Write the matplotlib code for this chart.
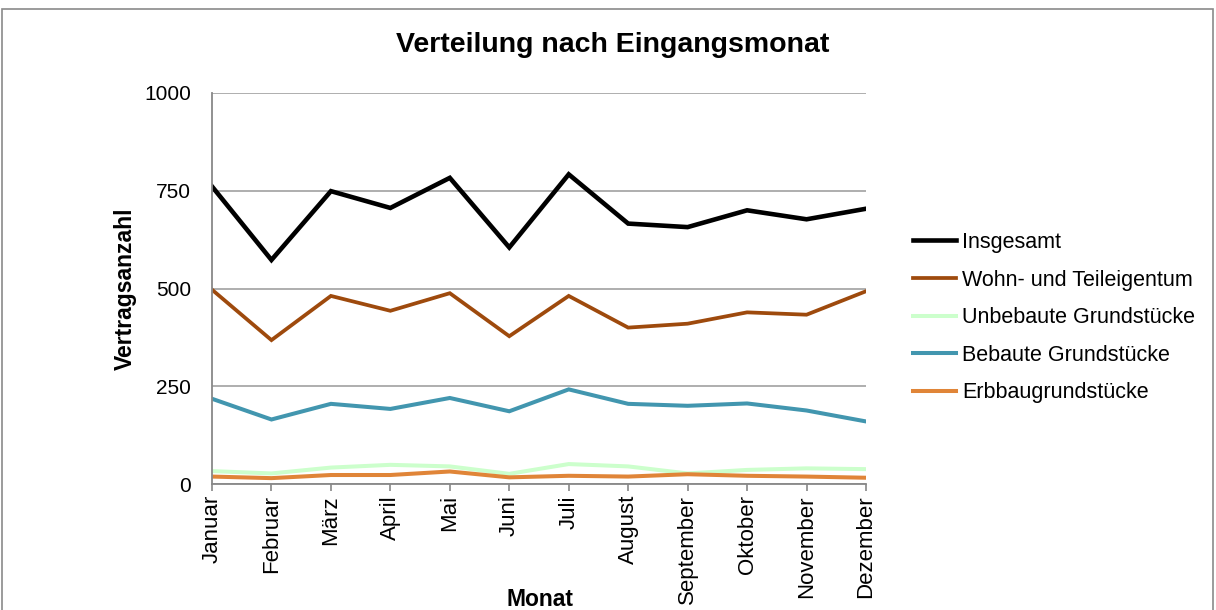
import matplotlib
matplotlib.use("Agg")
import matplotlib.pyplot as plt
from matplotlib.patches import Rectangle

plt.rcParams['font.family'] = ['Liberation Sans', 'DejaVu Sans']

months = ["Januar", "Februar", "März", "April", "Mai", "Juni", "Juli",
          "August", "September", "Oktober", "November", "Dezember"]
insgesamt = [761, 573, 749, 706, 783, 605, 792, 666, 657, 700, 677, 704]
wohn = [497, 368, 481, 443, 488, 378, 481, 400, 410, 439, 433, 493]
unbebaut = [33, 27, 42, 49, 45, 26, 51, 45, 27, 36, 40, 38]
bebaut = [218, 165, 205, 192, 220, 186, 242, 205, 200, 206, 188, 160]
erbbau = [19, 15, 23, 23, 32, 17, 21, 19, 25, 21, 19, 16]

series = [
    ("Insgesamt", insgesamt, "#000000", 3.3),
    ("Wohn- und Teileigentum", wohn, "#9E4A0D", 2.7),
    ("Unbebaute Grundstücke", unbebaut, "#CCFFCC", 2.9),
    ("Bebaute Grundstücke", bebaut, "#4296AF", 2.9),
    ("Erbbaugrundstücke", erbbau, "#E08538", 2.9),
]

fig = plt.figure(figsize=(12.16, 6.10), dpi=100)
ax = fig.add_axes([212/1216, 1-484/610, (866-212)/1216, (484-93)/610])

x = list(range(len(months)))
for name, vals, col, lw in series:
    ax.plot(x, vals, color=col, lw=lw, label=name, solid_joinstyle='miter')

ax.set_xlim(0, len(months)-1)
ax.set_ylim(0, 1000)
ax.set_yticks([0, 250, 500, 750, 1000])
ax.set_xticks(x)
ax.set_xticklabels(months, rotation=90, fontsize=16)
ax.tick_params(axis='y', length=0, pad=15, labelsize=15)
ax.tick_params(axis='x', length=5, color='#888888', width=1.2, pad=3)
ax.grid(axis='y', color='#999999', lw=1.1)
ax.set_axisbelow(True)
for s in ['top', 'right']:
    ax.spines[s].set_visible(False)
for s in ['left', 'bottom']:
    ax.spines[s].set_color('#888888')
    ax.spines[s].set_linewidth(1.3)

ax.set_ylabel("Vertragsanzahl", fontsize=16.5, fontweight='bold')
ax.yaxis.set_label_coords((137-212)/654, 0.5)
fig.text(540/1216, 1-599/610, "Monat", fontsize=16.5, fontweight='bold',
         ha='center', va='center')

fig.text(613/1216, 1-45/610, "Verteilung nach Eingangsmonat", fontsize=20.5,
         fontweight='bold', ha='center', va='center')

leg = ax.legend(loc='upper left', bbox_to_anchor=(913/1216, 1-232/610),
                bbox_transform=fig.transFigure, frameon=False, fontsize=15.5,
                handlelength=2.0, handletextpad=0.28, labelspacing=0.77,
                borderaxespad=0, borderpad=0)

fig.patches.append(Rectangle((2/1216, -0.05), 1211/1216, 1-9/610+0.05,
                             transform=fig.transFigure, fill=False,
                             edgecolor='#8a8a8a', lw=1.2))

fig.savefig("out.png", dpi=100)
